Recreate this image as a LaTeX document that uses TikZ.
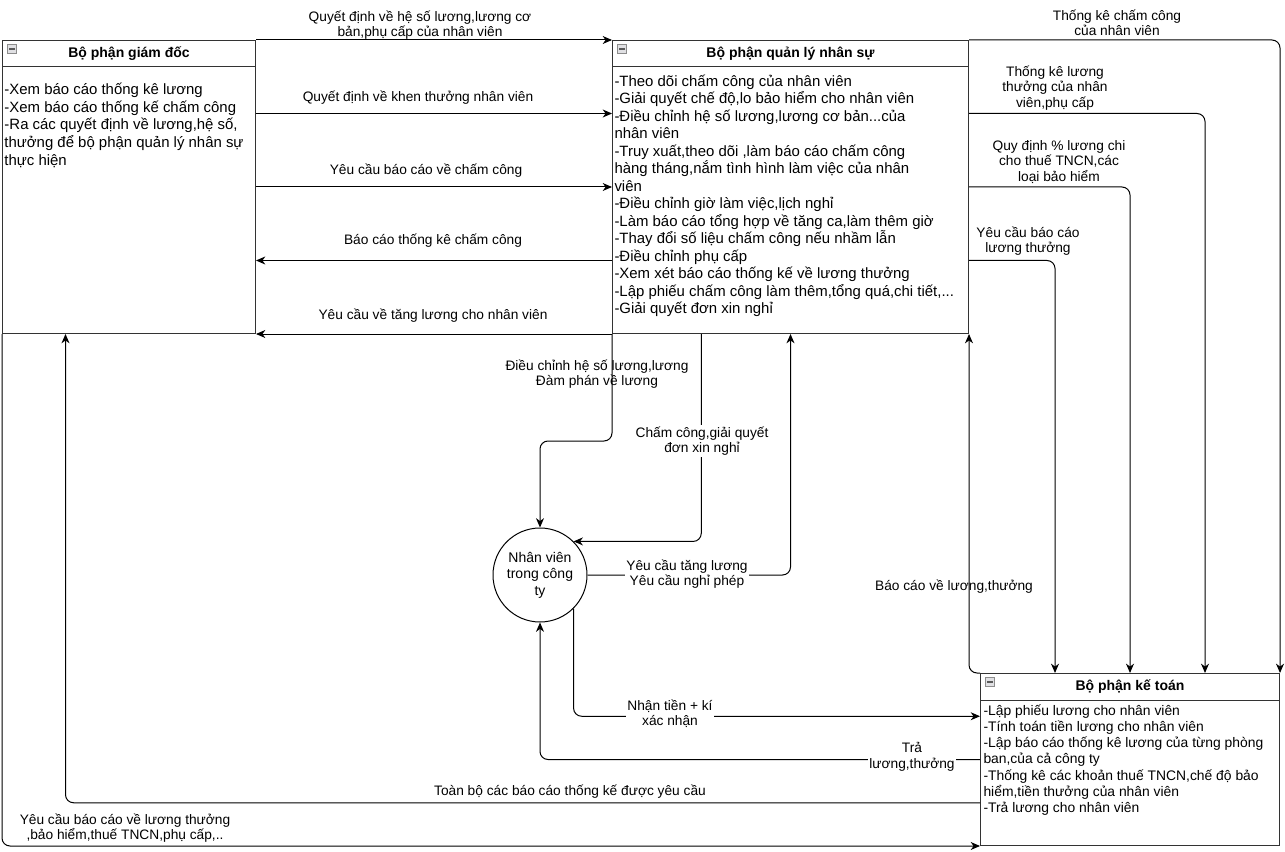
\documentclass[tikz,border=0pt]{standalone}
\usepackage{fontspec}
\setmainfont{Liberation Sans}
\usetikzlibrary{arrows.meta,calc}

\tikzset{every picture/.style={line width=0.75pt}}
\tikzset{
  lane/.style={draw=black!80, rectangle, anchor=north west, inner sep=0pt},
  lanebtn/.style={draw=black!45, fill=blue!8!black!12, rectangle, minimum size=7pt, inner sep=0pt,
    path picture={\draw[black!65, line width=1.2pt] ([xshift=1.5pt]path picture bounding box.west) -- ([xshift=-1.5pt]path picture bounding box.east);}},
  lanetitle/.style={font=\bfseries\fontsize{10.5}{12.8}\selectfont, inner sep=0pt},
  boxtext/.style={anchor=north west, inner sep=0pt, align=left, font=\fontsize{11.2}{13.1}\selectfont},
  flowlbl/.style={inner sep=1pt, align=center, font=\fontsize{10.3}{11.6}\selectfont},
  flow/.style={-{Stealth[length=7pt,width=6pt,inset=2.2pt]}, rounded corners=6pt}
}

\begin{document}
\begin{tikzpicture}[x=0.75pt,y=0.75pt,yscale=-1,xscale=1]
\useasboundingbox (0,0) rectangle (1285,852);

%Swimlane: giam doc
\node[lane, minimum width=189.75pt, minimum height=219.75pt] (gd) at (2,40) {};
\draw[black!80] ($(gd.north west)+(0,27)$) -- ($(gd.north east)+(0,27)$);
\node[lanebtn] (gdbtn) at ($(gd.north west)+(10,9)$) {};
\node[lanetitle] (gdtitle) at ($(gd.north)+(0,13.5)$) {Bộ phận giám đốc};
\node[boxtext, font=\fontsize{11.2}{13.3}\selectfont] (gdtext) at (4,82.5) {-Xem báo cáo thống kê lương\\-Xem báo cáo thống kế chấm công\\-Ra các quyết định về lương,hệ số,\\thưởng để bộ phận quản lý nhân sự\\thực hiện};

%Swimlane: quan ly nhan su
\node[lane, minimum width=267pt, minimum height=219.75pt] (ql) at (612,40) {};
\draw[black!80] ($(ql.north west)+(0,27)$) -- ($(ql.north east)+(0,27)$);
\node[lanebtn] (qlbtn) at ($(ql.north west)+(10,9)$) {};
\node[lanetitle] (qltitle) at ($(ql.north)+(0,13.5)$) {Bộ phận quản lý nhân sự};
\node[boxtext] (qltext) at (614,74.5) {-Theo dõi chấm công của nhân viên\\-Giải quyết chế độ,lo bảo hiểm cho nhân viên\\-Điều chỉnh hệ số lương,lương cơ bản...của\\nhân viên\\-Truy xuất,theo dõi ,làm báo cáo chấm công\\hàng tháng,nắm tình hình làm việc của nhân\\viên\\-Điều chỉnh giờ làm việc,lịch nghỉ\\-Làm báo cáo tổng hợp về tăng ca,làm thêm giờ\\-Thay đổi số liệu chấm công nếu nhầm lẫn\\-Điều chỉnh phụ cấp\\-Xem xét báo cáo thống kế về lương thưởng\\-Lập phiếu chấm công làm thêm,tổng quá,chi tiết,...\\-Giải quyết đơn xin nghỉ};

%Swimlane: ke toan
\node[lane, minimum width=224.25pt, minimum height=129pt] (kt) at (980,673) {};
\draw[black!80] ($(kt.north west)+(0,27)$) -- ($(kt.north east)+(0,27)$);
\node[lanebtn] (ktbtn) at ($(kt.north west)+(10,9)$) {};
\node[lanetitle] (kttitle) at ($(kt.north)+(0,13.5)$) {Bộ phận kế toán};
\node[boxtext, font=\fontsize{10.4}{12.2}\selectfont] (kttext) at (983,704) {-Lập phiếu lương cho nhân viên\\-Tính toán tiền lương cho nhân viên\\-Lập báo cáo thống kê lương của từng phòng\\ban,của cả công ty\\-Thống kê các khoản thuế TNCN,chế độ bảo\\hiểm,tiền thưởng của nhân viên\\-Trả lương cho nhân viên};

%Circle: nhan vien
\node[draw, circle, minimum size=70.5pt, inner sep=0pt, align=center, font=\fontsize{10.5}{12.4}\selectfont] (nv) at (540,575) {Nhân viên\\trong công\\ty};

%Giam doc -> quan ly nhan su
\draw[flow] (gd.north east) -- (ql.north west);
\draw[flow] ($(gd.north east)!.25!(gd.south east)$) -- ($(ql.north west)!.25!(ql.south west)$);
\draw[flow] ($(gd.north east)!.5!(gd.south east)$) -- ($(ql.north west)!.5!(ql.south west)$);
\draw[flow] ($(ql.north west)!.75!(ql.south west)$) -- ($(gd.north east)!.75!(gd.south east)$);
\draw[flow] (ql.south west) -- (gd.south east);

%Quan ly nhan su <-> nhan vien
\draw[flow] (ql.south west) -- ++(0,107) -| (nv.north);
\draw[flow] ($(ql.south west)!.25!(ql.south east)$) |- (nv.north east);
\draw[flow] (nv.east) -| ($(ql.south west)!.5!(ql.south east)$);

%Nhan vien <-> ke toan
\draw[flow] (nv.south east) |- ($(kt.north west)!.25!(kt.south west)$);
\draw[flow] ($(kt.north west)!.5!(kt.south west)$) -| (nv.south);

%Ke toan <-> giam doc
\draw[flow] ($(kt.north west)!.75!(kt.south west)$) -| ($(gd.south west)!.25!(gd.south east)$);
\draw[flow] (gd.south west) |- (kt.south west);

%Quan ly nhan su <-> ke toan
\draw[flow] (ql.north east) -| (kt.north east);
\draw[flow] ($(ql.north east)!.25!(ql.south east)$) -| ($(kt.north west)!.75!(kt.north east)$);
\draw[flow] ($(ql.north east)!.5!(ql.south east)$) -| ($(kt.north west)!.5!(kt.north east)$);
\draw[flow] ($(ql.north east)!.75!(ql.south east)$) -| ($(kt.north west)!.25!(kt.north east)$);
\draw[flow] (kt.north west) -| (ql.south east);

% Text Node
\node[flowlbl] (l1) at (420,25) {Quyết định về hệ số lương,lương cơ\\bản,phụ cấp của nhân viên};
\node[flowlbl] (l2) at (418,98) {Quyết định về khen thưởng nhân viên};
\node[flowlbl] (l3) at (426,171) {Yêu cầu báo cáo về chấm công};
\node[flowlbl] (l4) at (433,241) {Báo cáo thống kê chấm công};
\node[flowlbl] (l5) at (433,316) {Yêu cầu về tăng lương cho nhân viên};
\node[flowlbl] (l6) at (597,374) {Điều chỉnh hệ số lương,lương\\Đàm phán về lương};
\node[flowlbl, fill=white] (l7) at (702,441) {Chấm công,giải quyết\\đơn xin nghỉ};
\node[flowlbl, fill=white] (l8) at (687,574) {Yêu cầu tăng lương\\Yêu cầu nghỉ phép};
\node[flowlbl, fill=white] (l9) at (670,714) {Nhận tiền + kí\\xác nhận};
\node[flowlbl, fill=white] (l10) at (912,757) {Trả\\lương,thưởng};
\node[flowlbl] (l11) at (570,792) {Toàn bộ các báo cáo thống kế được yêu cầu};
\node[flowlbl] (l12) at (125,828) {Yêu cầu báo cáo về lương thưởng\\,bảo hiểm,thuế TNCN,phụ cấp,..};
\node[flowlbl] (l13) at (1117,23) {Thống kê chấm công\\của nhân viên};
\node[flowlbl] (l14) at (1055,88) {Thống kê lương\\thưởng của nhân\\viên,phụ cấp};
\node[flowlbl] (l15) at (1059,162) {Quy định \% lương chi\\cho thuế TNCN,các\\loại bảo hiểm};
\node[flowlbl] (l16) at (1028,241) {Yêu cầu báo cáo\\lương thưởng};
\node[flowlbl] (l17) at (954,587) {Báo cáo về lương,thưởng};

\end{tikzpicture}
\end{document}
